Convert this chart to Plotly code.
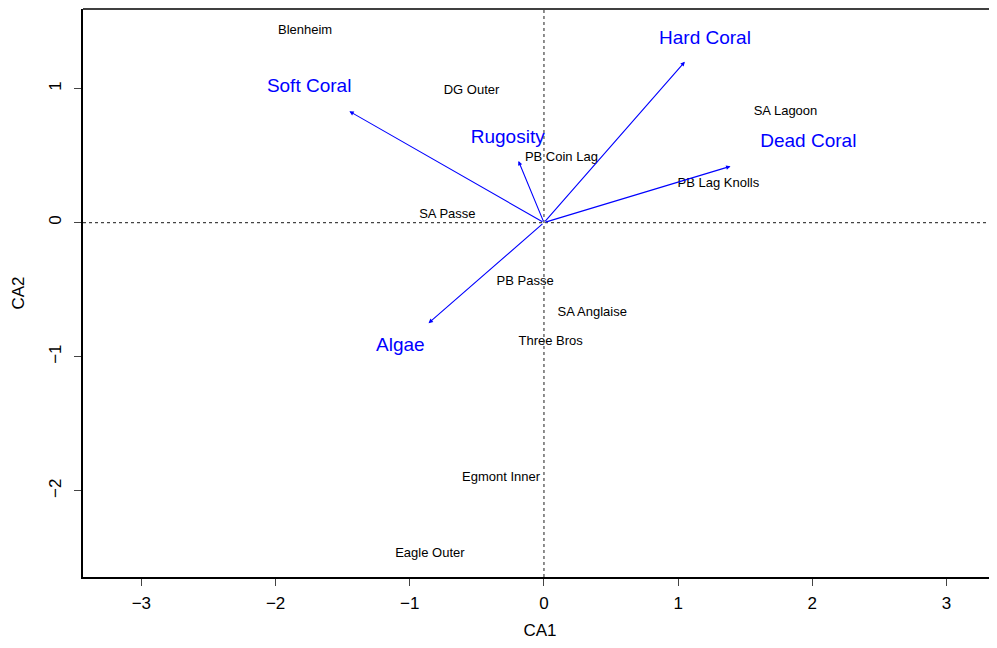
import plotly.graph_objects as go

# Site scores
site_names = ["Blenheim", "DG Outer", "SA Lagoon", "PB Coin Lag", "PB Lag Knolls",
              "SA Passe", "PB Passe", "SA Anglaise", "Three Bros", "Egmont Inner", "Eagle Outer"]
site_x = [-1.78, -0.54, 1.80, 0.13, 1.30, -0.72, -0.14, 0.36, 0.05, -0.32, -0.85]
site_y = [1.43, 0.98, 0.83, 0.48, 0.29, 0.06, -0.44, -0.67, -0.89, -1.90, -2.47]

# Variable arrows (biplot)
var_names = ["Hard Coral", "Soft Coral", "Rugosity", "Dead Coral", "Algae"]
var_x = [1.05, -1.45, -0.19, 1.39, -0.86]
var_y = [1.20, 0.83, 0.46, 0.42, -0.75]
var_label_x = [1.20, -1.75, -0.27, 1.97, -1.07]
var_label_y = [1.37, 1.01, 0.63, 0.60, -0.92]

x_ticks = [-3, -2, -1, 0, 1, 2, 3]
y_ticks = [-2, -1, 0, 1]
x_tick_text = ["\u22123", "\u22122", "\u22121", "0", "1", "2", "3"]
y_tick_text = ["\u22122", "\u22121", "0", "1"]

FONT = "Liberation Sans, Arial, Helvetica, sans-serif"

fig = go.Figure()

fig.add_trace(go.Scatter(
    x=site_x, y=site_y, mode="text", text=site_names,
    textfont=dict(family=FONT, size=13, color="black"),
    textposition="middle center", hoverinfo="skip", showlegend=False))

fig.add_trace(go.Scatter(
    x=var_label_x, y=var_label_y, mode="text", text=var_names,
    textfont=dict(family=FONT, size=19, color="#0000ff"),
    textposition="middle center", hoverinfo="skip", showlegend=False))

for vx, vy in zip(var_x, var_y):
    fig.add_annotation(x=vx, y=vy, ax=0, ay=0, xref="x", yref="y",
                       axref="x", ayref="y", text="", showarrow=True,
                       arrowhead=2, arrowsize=0.8, arrowwidth=1.1,
                       arrowcolor="#0000ff")

# dotted reference lines
fig.add_shape(type="line", xref="paper", yref="y", x0=0, x1=1, y0=0, y1=0,
              line=dict(color="#444444", width=1.2, dash="dot"))
fig.add_shape(type="line", xref="x", yref="paper", x0=0, x1=0, y0=0, y1=1,
              line=dict(color="#444444", width=1.2, dash="dot"))
# top border
fig.add_shape(type="line", xref="paper", yref="paper", x0=0, x1=1, y0=1, y1=1,
              line=dict(color="black", width=1.5))

fig.update_layout(
    width=989, height=632,
    margin=dict(l=75, r=0, t=1, b=63),
    plot_bgcolor="white", paper_bgcolor="white",
    font=dict(family=FONT, color="black"),
    xaxis=dict(range=[-3.435, 3.376], tickvals=x_ticks, ticktext=x_tick_text,
               showgrid=False, zeroline=False, showline=True, linecolor="black",
               linewidth=1.5, ticks="outside", ticklen=7, tickcolor="#444444",
               ticklabelstandoff=3,
               tickfont=dict(size=17, family=FONT),
               title=dict(text="CA1", font=dict(size=17, family=FONT), standoff=14)),
    yaxis=dict(range=[-2.643, 1.593], tickvals=y_ticks, ticktext=y_tick_text,
               showgrid=False, zeroline=False, showline=True, linecolor="black",
               linewidth=1.5, ticks="outside", ticklen=7, tickcolor="#444444",
               tickangle=-90, ticklabelstandoff=6,
               tickfont=dict(size=17, family=FONT),
               title=dict(text="CA2", font=dict(size=17, family=FONT), standoff=18)),
)

fig.write_html("out.html")
